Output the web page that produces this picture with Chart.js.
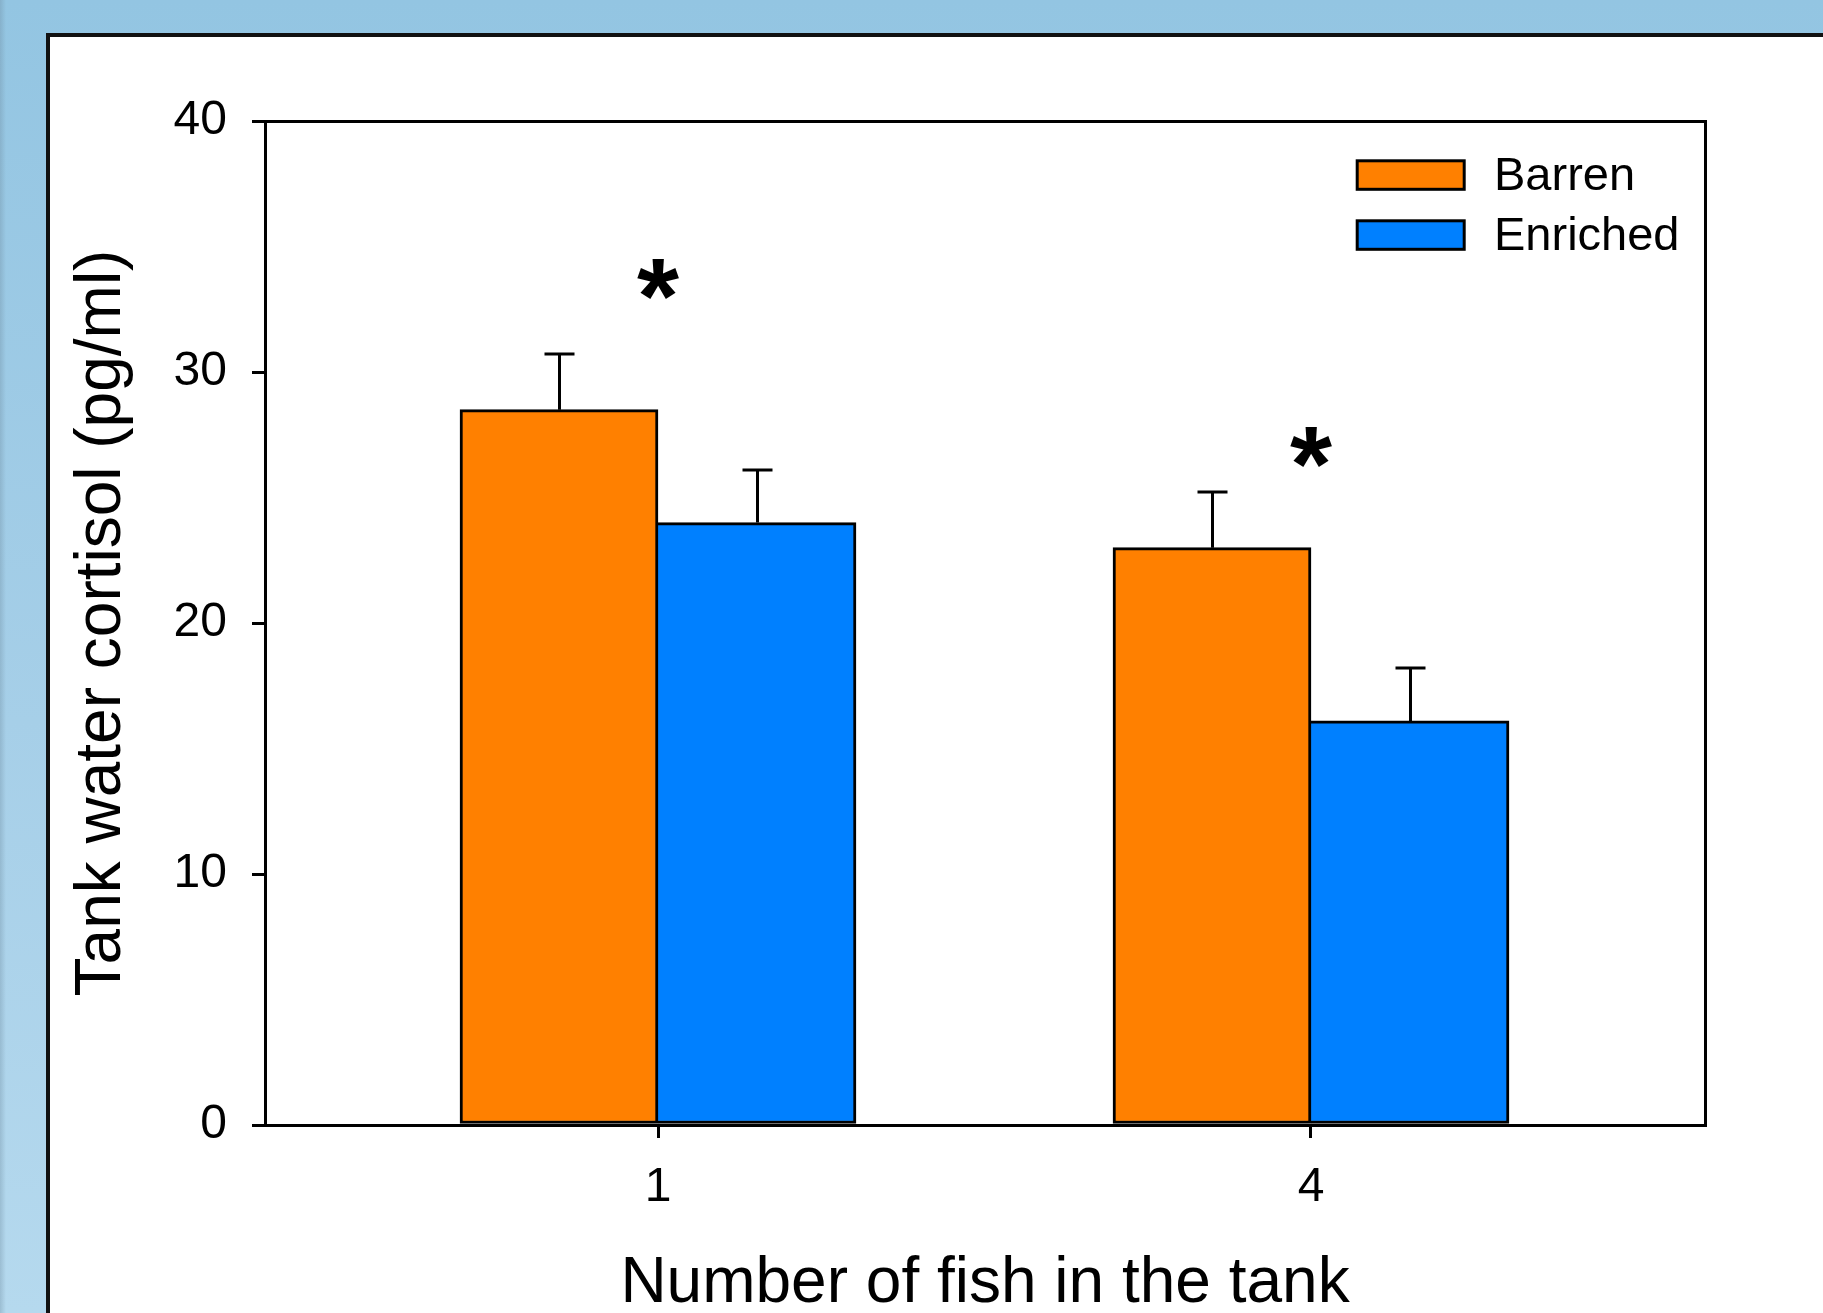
<!DOCTYPE html>
<html>
<head>
<meta charset="utf-8">
<script src="https://cdn.jsdelivr.net/npm/chart.js@4.4.1/dist/chart.umd.min.js"></script>
<style>
  html, body { margin: 0; padding: 0; width: 1823px; height: 1313px; overflow: hidden; }
  body { position: relative; background: linear-gradient(to bottom, #93c5e2 0%, #a6cfe8 55%, #b5d9ee 100%); }
  #edge { position: absolute; left: 0; top: 0; width: 6px; height: 1313px;
          background: linear-gradient(to right, rgba(110,140,160,0.35), rgba(110,140,160,0)); }
  #panel { position: absolute; left: 46px; top: 33px; width: 1800px; height: 1300px;
           background: #fff; border-left: 4px solid #111; border-top: 4px solid #111; }
  #chart { position: absolute; left: 0; top: 0; }
</style>
</head>
<body>
<div id="edge"></div>
<div id="panel"></div>
<canvas id="chart" width="1823" height="1330"></canvas>
<script>
// Tank water cortisol by group size and tank condition (mean + SE)
const categories = ['1', '4'];
const seriesNames = ['Barren', 'Enriched'];
const barrenMeans = [28.5, 23.0];
const enrichedMeans = [24.0, 16.1];
const barrenSE = [2.2, 2.2];
const enrichedSE = [2.1, 2.1];
const yTickValues = [0, 10, 20, 30, 40];
const starLevels = [33.7, 27.0];   // where the significance asterisk sits in each group
const xTitle = 'Number of fish in the tank';
const yTitle = 'Tank water cortisol (pg/ml)';

const FONT = "'Liberation Sans', Arial, sans-serif";
const fillColors = ['#ff8000', '#0080ff'];

const toPoints = arr => arr.map((v, i) => ({ x: i, y: v }));

// error bars, significance marks, plot frame and legend
const decorations = {
  id: 'decorations',
  afterDatasetsDraw(chart) {
    const ctx = chart.ctx;
    const xs = chart.scales.x, ys = chart.scales.y;
    const area = chart.chartArea;
    ctx.save();

    // frame around the plot
    ctx.strokeStyle = '#000';
    ctx.lineWidth = 3;
    ctx.beginPath();
    ctx.moveTo(area.left, area.top + 0.5);
    ctx.lineTo(area.right + 0.5, area.top + 0.5);
    ctx.lineTo(area.right + 0.5, area.bottom);
    ctx.stroke();

    // upper error whiskers
    chart.data.datasets.forEach((ds, di) => {
      const meta = chart.getDatasetMeta(di);
      meta.data.forEach((bar, i) => {
        const v = ds.data[i].y;
        const top = ys.getPixelForValue(v + ds.errors[i]);
        const base = ys.getPixelForValue(v);
        const cx = Math.round(bar.x) + 0.5;
        ctx.beginPath();
        ctx.moveTo(cx, base);
        ctx.lineTo(cx, Math.round(top));
        ctx.moveTo(cx - 15, Math.round(top));
        ctx.lineTo(cx + 15, Math.round(top));
        ctx.stroke();
      });
    });

    // asterisks
    ctx.fillStyle = '#000';
    ctx.font = 'bold 108px ' + FONT;
    ctx.textAlign = 'left';
    ctx.textBaseline = 'alphabetic';
    starLevels.forEach((lvl, i) => {
      const m = ctx.measureText('*');
      const cx = xs.getPixelForValue(i);
      const cy = ys.getPixelForValue(lvl);
      const w = m.actualBoundingBoxLeft + m.actualBoundingBoxRight;
      const dx = cx - w / 2 + m.actualBoundingBoxLeft;
      const dy = cy + (m.actualBoundingBoxAscent - m.actualBoundingBoxDescent) / 2;
      ctx.fillText('*', dx, dy);
    });

    // legend
    ctx.font = '47px ' + FONT;
    chart.data.datasets.forEach((ds, di) => {
      const y = 160.8 + di * 60;
      ctx.fillStyle = ds.backgroundColor;
      ctx.fillRect(1357, y, 107.5, 28.5);
      ctx.strokeRect(1357.2, y, 107, 28.5);
      ctx.fillStyle = '#000';
      ctx.fillText(ds.label, 1494, y + 29.5);
    });
    ctx.restore();
  }
};

new Chart(document.getElementById('chart'), {
  type: 'bar',
  data: {
    datasets: [
      {
        label: seriesNames[0],
        data: toPoints(barrenMeans),
        errors: barrenSE,
        backgroundColor: fillColors[0],
        borderColor: '#000',
        borderWidth: 3,
        borderSkipped: false
      },
      {
        label: seriesNames[1],
        data: toPoints(enrichedMeans),
        errors: enrichedSE,
        backgroundColor: fillColors[1],
        borderColor: '#000',
        borderWidth: { left: 0, top: 3, right: 3, bottom: 3 },
        borderSkipped: false
      }
    ]
  },
  options: {
    responsive: false,
    animation: false,
    devicePixelRatio: 1,
    barThickness: 198,
    layout: { padding: { left: 0, top: 121, right: 118, bottom: 0 } },
    plugins: { legend: { display: false }, tooltip: { enabled: false } },
    scales: {
      x: {
        type: 'linear',
        min: -0.60184,
        max: 1.60337,
        offset: false,
        afterBuildTicks: s => { s.ticks = categories.map((c, i) => ({ value: i })); },
        afterFit: s => { s.height = 205; },
        ticks: {
          callback: v => categories[v],
          font: { family: FONT, size: 48 },
          color: '#000',
          padding: 21,
          maxRotation: 0,
          autoSkip: false
        },
        grid: { display: true, offset: false, drawOnChartArea: false, drawTicks: true,
                tickLength: 13, tickWidth: 3, tickColor: '#000', color: '#000', lineWidth: 3 },
        border: { display: true, color: '#000', width: 3 },
        title: { display: true, text: xTitle, color: '#000',
                 font: { family: FONT, size: 64 }, padding: { top: 0, bottom: 7 } }
      },
      y: {
        type: 'linear',
        min: 0,
        max: 40,
        afterBuildTicks: s => { s.ticks = yTickValues.map(v => ({ value: v })); },
        afterFit: s => { s.width = 265; },
        ticks: { font: { family: FONT, size: 48 }, color: '#000', padding: 25 },
        grid: { display: true, drawOnChartArea: false, drawTicks: true,
                tickLength: 13, tickWidth: 3, tickColor: '#000', color: '#000', lineWidth: 3 },
        border: { display: true, color: '#000', width: 3 },
        title: { display: true, text: yTitle, color: '#000',
                 font: { family: FONT, size: 64 }, padding: { top: 64, bottom: 0 } }
      }
    }
  },
  plugins: [decorations]
});
</script>
</body>
</html>
